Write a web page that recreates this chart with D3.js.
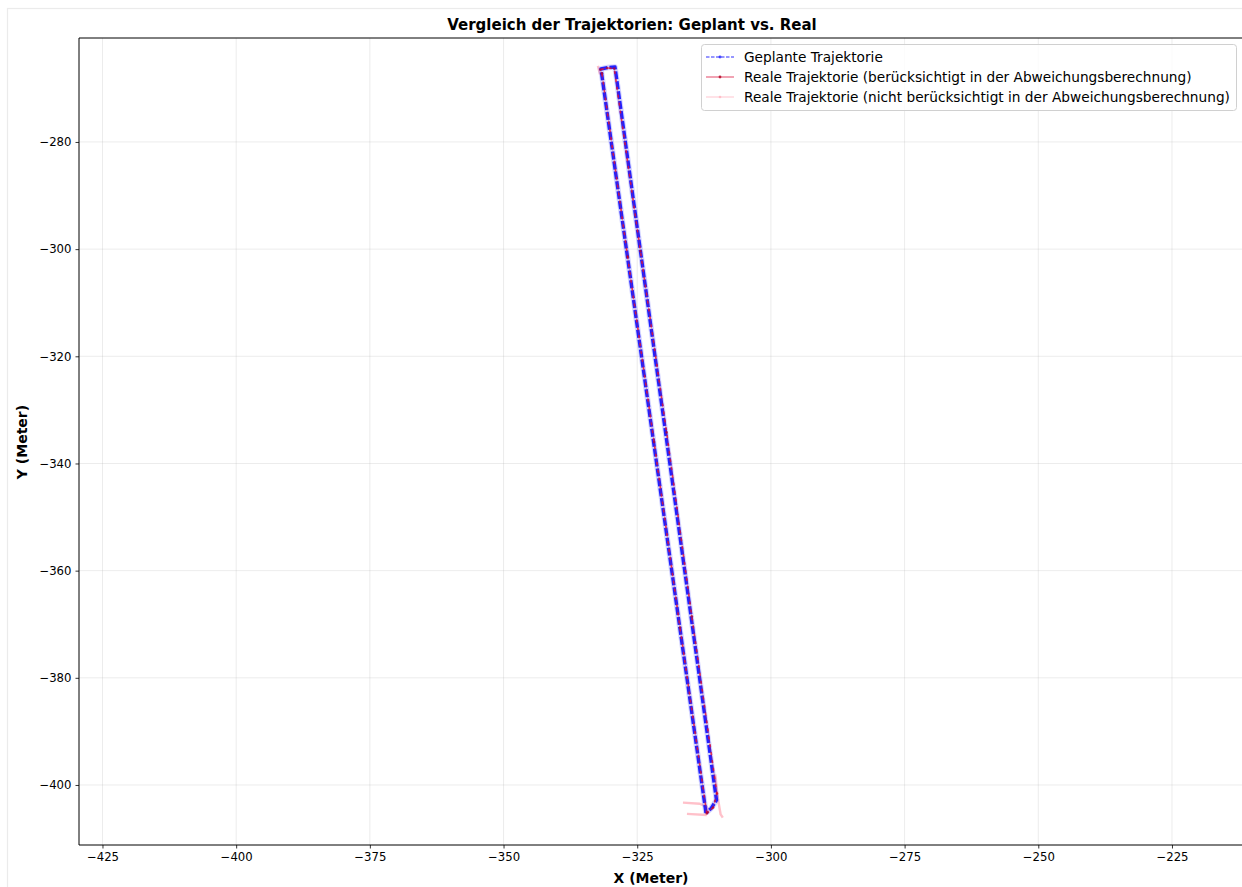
<!DOCTYPE html>
<html><head><meta charset="utf-8">
<script src="https://cdn.jsdelivr.net/npm/d3@7"></script>
<style>
html,body{margin:0;padding:0;background:#fff;}
svg{display:block;font-family:"DejaVu Sans",sans-serif;}
</style></head>
<body>
<script>
// ---- data ----
const xTicks = [-425, -400, -375, -350, -325, -300, -275, -250, -225];
const yTicks = [-280, -300, -320, -340, -360, -380, -400];

// planned trajectory waypoints
const plannedX = [-312.14, -321.94, -331.78, -330.5, -329.16, -319.66, -310.18, -311.2, -312.14];
const plannedY = [-405.23, -335.99, -266.39, -266.1, -266.01, -334.5, -402.8, -404.4, -405.23];

// real trajectory (considered in deviation)
const realX = [-312.0, -317.0, -321.85, -326.8, -331.6, -331.9, -330.6, -329.3, -324.4, -319.5, -314.8, -310.1, -310.8, -311.8];
const realY = [-405.3, -370.6, -336.0, -301.4, -267.2, -266.5, -266.2, -266.3, -300.4, -334.2, -368.5, -401.6, -404.2, -405.1];

// real trajectory (not considered) — separate segments
const pinkX   = [-316.45, -313.3, -312.0, -311.7,  -315.7, -312.0,  -310.4, -309.9, -309.4, -309.0,  -332.35, -331.95];
const pinkY   = [-403.3, -403.5, -404.1, -405.0,   -405.4, -405.6,  -398.0, -402.6, -405.5, -406.1,   -265.8, -267.4];
const pinkSeg = [0, 0, 0, 0, 1, 1, 2, 2, 2, 2, 3, 3];

const legendLabels = [
  "Geplante Trajektorie",
  "Reale Trajektorie (berücksichtigt in der Abweichungsberechnung)",
  "Reale Trajektorie (nicht berücksichtigt in der Abweichungsberechnung)"
];
const titleText = "Vergleich der Trajektorien: Geplant vs. Real";
const xLabel = "X (Meter)";
const yLabel = "Y (Meter)";

// ---- layout ----
const W = 1242, H = 887;
const L = 79, R = 1260, T = 38, B = 845;

const svg = d3.select("body").append("svg").attr("width", W).attr("height", H);

// figure border
svg.append("rect").attr("x", 7.5).attr("y", 8.5).attr("width", W + 20).attr("height", H + 20)
  .attr("fill", "#fff").attr("stroke", "#ebebeb").attr("stroke-width", 1.2);

const x = d3.scaleLinear().domain([-429.39, -208.54]).range([L, R]);
const y = d3.scaleLinear().domain([-260.6, -411.2]).range([T, B]);

const fmt = d => String(d).replace("-", "\u2212");

// grid
const grid = svg.append("g");
grid.selectAll(".gx").data(xTicks).join("line")
  .attr("x1", d => x(d)).attr("x2", d => x(d)).attr("y1", T).attr("y2", B)
  .attr("stroke", "#b0b0b0").attr("stroke-opacity", 0.3).attr("stroke-width", 0.8);
grid.selectAll(".gy").data(yTicks).join("line")
  .attr("x1", L).attr("x2", R).attr("y1", d => y(d)).attr("y2", d => y(d))
  .attr("stroke", "#b0b0b0").attr("stroke-opacity", 0.3).attr("stroke-width", 0.8);

// clip
svg.append("clipPath").attr("id", "clip").append("rect")
  .attr("x", L).attr("y", T).attr("width", R - L).attr("height", B - T);
const plot = svg.append("g").attr("clip-path", "url(#clip)");

const line = d3.line().x(d => x(d[0])).y(d => y(d[1]));
const planned = plannedX.map((v, i) => [v, plannedY[i]]);
const real = realX.map((v, i) => [v, realY[i]]);
const pinkGroups = d3.groups(pinkX.map((v, i) => [v, pinkY[i], pinkSeg[i]]), d => d[2]).map(g => g[1]);

// pink (not considered)
pinkGroups.forEach(seg => {
  plot.append("path").attr("d", line(seg)).attr("fill", "none")
    .attr("stroke", "#ffb6c1").attr("stroke-width", 2.4).attr("stroke-opacity", 0.85)
    .attr("stroke-linejoin", "round");
});

// planned: halo + dense dashed blue
plot.append("path").attr("d", line(planned)).attr("fill", "none")
  .attr("stroke", "#5555ff").attr("stroke-width", 5.5).attr("stroke-opacity", 0.25)
  .attr("stroke-linejoin", "round");
plot.append("path").attr("d", line(planned)).attr("fill", "none")
  .attr("stroke", "#0000ff").attr("stroke-width", 3.4).attr("stroke-opacity", 0.85)
  .attr("stroke-dasharray", "8,2").attr("stroke-linejoin", "round");

// real considered: red
plot.append("path").attr("d", line(real)).attr("fill", "none")
  .attr("stroke", "#e8102c").attr("stroke-width", 1.7).attr("stroke-opacity", 0.75)
  .attr("stroke-dasharray", "3,5");
plot.append("path").attr("d", line(real)).attr("fill", "none")
  .attr("stroke", "#dc143c").attr("stroke-width", 0.8).attr("stroke-opacity", 0.4);
plot.selectAll(".rm").data(real).join("circle")
  .attr("cx", d => x(d[0])).attr("cy", d => y(d[1])).attr("r", 1.3)
  .attr("fill", "#c00020").attr("fill-opacity", 0.7);

// spines
svg.append("line").attr("x1", L).attr("x2", L).attr("y1", T).attr("y2", B).attr("stroke", "#000").attr("stroke-width", 1);
svg.append("line").attr("x1", L).attr("x2", R).attr("y1", B).attr("y2", B).attr("stroke", "#000").attr("stroke-width", 1);
svg.append("line").attr("x1", L).attr("x2", R).attr("y1", T).attr("y2", T).attr("stroke", "#000").attr("stroke-width", 1);

// axes
const xAxis = d3.axisBottom(x).tickValues(xTicks).tickFormat(fmt).tickSizeInner(3.5).tickSizeOuter(0).tickPadding(4);
const gx = svg.append("g").attr("transform", `translate(0,${B})`).call(xAxis);
gx.select(".domain").remove();
gx.selectAll("text").attr("font-size", 11.7).attr("font-family", "DejaVu Sans").attr("fill", "#000");
gx.selectAll("line").attr("stroke", "#000").attr("stroke-width", 0.8);

const yAxis = d3.axisLeft(y).tickValues(yTicks).tickFormat(fmt).tickSizeInner(3.5).tickSizeOuter(0).tickPadding(4);
const gy = svg.append("g").attr("transform", `translate(${L},0)`).call(yAxis);
gy.select(".domain").remove();
gy.selectAll("text").attr("font-size", 11.7).attr("font-family", "DejaVu Sans").attr("fill", "#000");
gy.selectAll("line").attr("stroke", "#000").attr("stroke-width", 0.8);

// labels
svg.append("text").attr("x", 632).attr("y", 30).attr("text-anchor", "middle")
  .attr("font-size", 15).attr("font-weight", "bold").text(titleText);
svg.append("text").attr("x", 651).attr("y", 883).attr("text-anchor", "middle")
  .attr("font-size", 14).attr("font-weight", "bold").text(xLabel);
svg.append("text").attr("transform", "translate(27,442) rotate(-90)").attr("text-anchor", "middle")
  .attr("font-size", 14).attr("font-weight", "bold").text(yLabel);

// legend
const lg = svg.append("g");
lg.append("rect").attr("x", 701.5).attr("y", 44.5).attr("width", 535).attr("height", 66).attr("rx", 3)
  .attr("fill", "#fff").attr("fill-opacity", 0.8).attr("stroke", "#d0d0d0");
const rowsY = [57, 77, 97];
// row 1
lg.append("line").attr("x1", 706).attr("x2", 734).attr("y1", rowsY[0]).attr("y2", rowsY[0])
  .attr("stroke", "#0000ff").attr("stroke-opacity", 0.55).attr("stroke-width", 1.3).attr("stroke-dasharray", "3.5,1.5");
lg.append("circle").attr("cx", 720).attr("cy", rowsY[0]).attr("r", 1.4).attr("fill", "#0000ff").attr("fill-opacity", 0.7);
// row 2
lg.append("line").attr("x1", 706).attr("x2", 734).attr("y1", rowsY[1]).attr("y2", rowsY[1])
  .attr("stroke", "#dc143c").attr("stroke-opacity", 0.6).attr("stroke-width", 1.3);
lg.append("circle").attr("cx", 720).attr("cy", rowsY[1]).attr("r", 1.4).attr("fill", "#b00020").attr("fill-opacity", 0.8);
// row 3
lg.append("line").attr("x1", 706).attr("x2", 734).attr("y1", rowsY[2]).attr("y2", rowsY[2])
  .attr("stroke", "#ffb6c1").attr("stroke-opacity", 0.6).attr("stroke-width", 1.3);
lg.append("circle").attr("cx", 720).attr("cy", rowsY[2]).attr("r", 1.3).attr("fill", "#ffb6c1").attr("fill-opacity", 0.8);
legendLabels.forEach((t, i) => {
  lg.append("text").attr("x", 744).attr("y", rowsY[i]).attr("dy", "0.35em")
    .attr("font-size", 13.7).attr("fill", "#000").text(t);
});
</script>
</body></html>
